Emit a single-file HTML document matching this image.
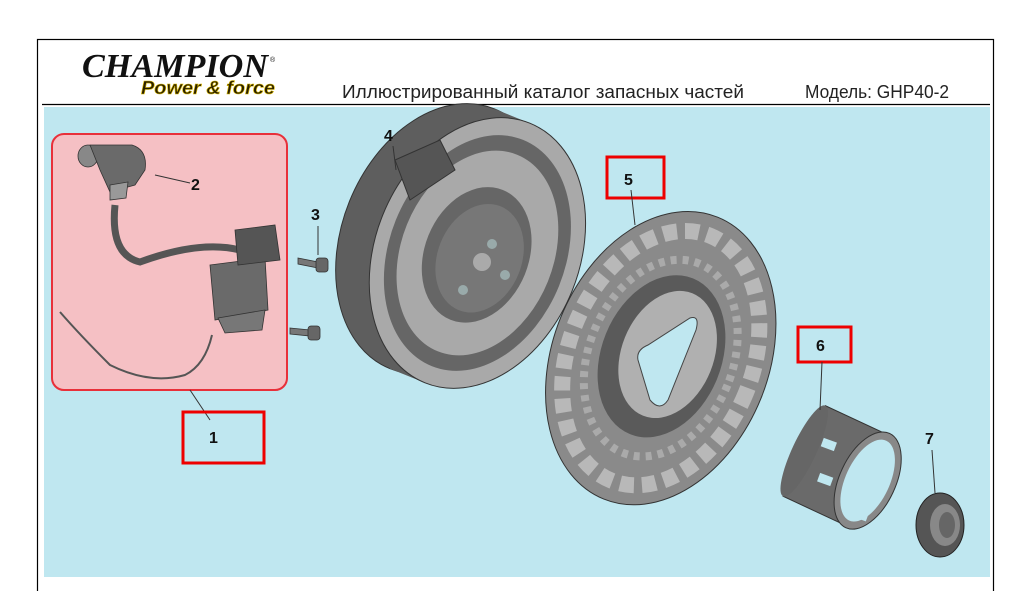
<!DOCTYPE html>
<html><head><meta charset="utf-8"><style>
html,body{margin:0;padding:0;background:#fff;}
body{width:1025px;height:591px;position:relative;overflow:hidden;font-family:"Liberation Sans",sans-serif;}
</style></head><body>
<svg width="1025" height="591" viewBox="0 0 1025 591" xmlns="http://www.w3.org/2000/svg" style="position:absolute;left:0;top:0">
<rect x="37.5" y="39.5" width="956" height="560" fill="#fff" stroke="#000" stroke-width="1.2"/>
<text x="82" y="77" font-family="Liberation Serif,serif" font-weight="bold" font-style="italic" font-size="34" fill="#111" textLength="186" lengthAdjust="spacingAndGlyphs">CHAMPION</text>
<text x="270" y="62" font-size="7" fill="#111">®</text>
<text x="141" y="94" font-family="Liberation Sans,sans-serif" font-weight="bold" font-style="italic" font-size="18" fill="#2a2000" stroke="#d9b800" stroke-width="0.6" textLength="134" lengthAdjust="spacingAndGlyphs">Power &amp; force</text>
<text x="342" y="98" font-size="18" fill="#222" textLength="402" lengthAdjust="spacingAndGlyphs">Иллюстрированный каталог запасных частей</text>
<text x="805" y="98" font-size="18" fill="#222" textLength="144" lengthAdjust="spacingAndGlyphs">Модель: GHP40-2</text>
<line x1="42" y1="104.5" x2="990" y2="104.5" stroke="#000" stroke-width="1.2"/>
<rect x="44" y="107" width="946" height="470" fill="#bfe7f0"/>
<!-- pink box -->
<rect x="52" y="134" width="235" height="256" rx="12" fill="#f5c0c4" stroke="#e8303a" stroke-width="2"/>
<g fill="#6a6a6a" stroke="#333" stroke-width="0.8">
<ellipse cx="88" cy="156" rx="10" ry="11" fill="#888"/>
<path d="M90 145 L132 145 Q148 150 145 170 L135 185 L110 192 L100 170 Z"/>
<path d="M110 185 L128 182 L126 198 L110 200Z" fill="#999"/>
<path d="M115 205 Q110 255 140 262 Q200 240 240 250" fill="none" stroke="#555" stroke-width="7"/>
<path d="M210 265 L265 258 L268 310 L215 320 Z"/>
<path d="M235 230 L275 225 L280 260 L238 265Z" fill="#555"/>
<path d="M218 318 L265 310 L262 330 L225 333Z" fill="#777"/>
</g>
<path d="M60 312 Q80 335 110 365 Q150 385 185 375 Q205 365 212 335" fill="none" stroke="#555" stroke-width="2"/>
<line x1="155" y1="175" x2="190" y2="183" stroke="#333"/>
<text x="191" y="190" font-size="16" font-weight="bold" fill="#111">2</text>
<line x1="190" y1="390" x2="210" y2="420" stroke="#333"/>
<rect x="183" y="412" width="81" height="51" fill="none" stroke="#e00" stroke-width="3"/>
<text x="209" y="443" font-size="16" font-weight="bold" fill="#111">1</text>
<text x="311" y="220" font-size="16" font-weight="bold" fill="#111">3</text>
<line x1="318" y1="226" x2="318" y2="255" stroke="#333"/>
<g fill="#777" stroke="#333" stroke-width="0.8">
<path d="M298 258 L318 262 L318 268 L298 264Z"/><rect x="316" y="258" width="12" height="14" rx="3" fill="#666"/>
<path d="M290 328 L310 330 L310 336 L290 334Z"/><rect x="308" y="326" width="12" height="14" rx="3" fill="#666"/>
</g>
<!-- flywheel 4 -->
<g transform="rotate(22 470 250)">
<ellipse cx="440" cy="250" rx="100" ry="140" fill="#5e5e5e" stroke="#333"/>
<rect x="440" y="110" width="40" height="280" fill="#5e5e5e"/>
<ellipse cx="478" cy="250" rx="102" ry="140" fill="#a9a9a9" stroke="#333"/>
<ellipse cx="478" cy="250" rx="88" ry="122" fill="#666"/>
<ellipse cx="478" cy="250" rx="76" ry="106" fill="#a9a9a9"/>
<ellipse cx="478" cy="252" rx="52" ry="70" fill="#666"/>
<ellipse cx="482" cy="254" rx="42" ry="56" fill="#777"/>
</g>
<path d="M395 160 L440 140 L455 170 L410 200Z" fill="#555" stroke="#333"/>
<circle cx="482" cy="262" r="9" fill="#aaa"/>
<circle cx="492" cy="244" r="5" fill="#9aa"/><circle cx="505" cy="275" r="5" fill="#9aa"/><circle cx="463" cy="290" r="5" fill="#9aa"/>
<text x="384" y="141" font-size="16" font-weight="bold" fill="#111">4</text>
<line x1="393" y1="146" x2="396" y2="170" stroke="#333"/>
<!-- fan 5 -->
<g transform="rotate(22 660 360)">
<ellipse cx="660" cy="358" rx="108" ry="152" fill="#8a8a8a" stroke="#333"/>
<ellipse cx="660" cy="358" rx="92" ry="132" fill="none" stroke="#b8b8b8" stroke-width="16" stroke-dasharray="14 8"/>
<ellipse cx="660" cy="358" rx="72" ry="102" fill="none" stroke="#aaa" stroke-width="8" stroke-dasharray="6 6"/>
<ellipse cx="660" cy="356" rx="60" ry="84" fill="#5a5a5a"/>
<ellipse cx="665" cy="352" rx="46" ry="66" fill="#b0b0b0"/>
</g>
<path d="M690 318 Q700 315 696 330 L668 400 Q660 412 650 400 L638 360 Q636 350 648 345 Z" fill="#bfe7f0" stroke="#444"/>
<rect x="607" y="157" width="57" height="41" fill="none" stroke="#e00" stroke-width="3"/>
<text x="624" y="185" font-size="16" font-weight="bold" fill="#111">5</text>
<line x1="631" y1="190" x2="635" y2="225" stroke="#333"/>
<!-- cup 6 -->
<g transform="rotate(25 845 470)">
<rect x="800" y="420" width="70" height="100" fill="#6a6a6a" stroke="#333"/>
<ellipse cx="870" cy="470" rx="28" ry="52" fill="#888" stroke="#333"/>
<ellipse cx="870" cy="470" rx="22" ry="44" fill="#bfe7f0"/>
<ellipse cx="800" cy="470" rx="12" ry="50" fill="#666"/>
</g>
<rect x="822" y="440" width="14" height="9" fill="#bfe7f0" transform="rotate(20 829 444)"/>
<rect x="818" y="475" width="14" height="9" fill="#bfe7f0" transform="rotate(20 825 480)"/>
<rect x="854" y="510" width="14" height="9" fill="#bfe7f0" transform="rotate(20 860 514)"/>
<rect x="798" y="327" width="53" height="35" fill="none" stroke="#e00" stroke-width="3"/>
<text x="816" y="351" font-size="16" font-weight="bold" fill="#111">6</text>
<line x1="822" y1="362" x2="820" y2="410" stroke="#333"/>
<!-- nut 7 -->
<ellipse cx="940" cy="525" rx="24" ry="32" fill="#555" stroke="#222"/>
<ellipse cx="945" cy="525" rx="15" ry="21" fill="#888"/>
<ellipse cx="947" cy="525" rx="8" ry="13" fill="#666"/>
<text x="925" y="444" font-size="16" font-weight="bold" fill="#111">7</text>
<line x1="932" y1="450" x2="935" y2="493" stroke="#333"/>
</svg>
</body></html>
